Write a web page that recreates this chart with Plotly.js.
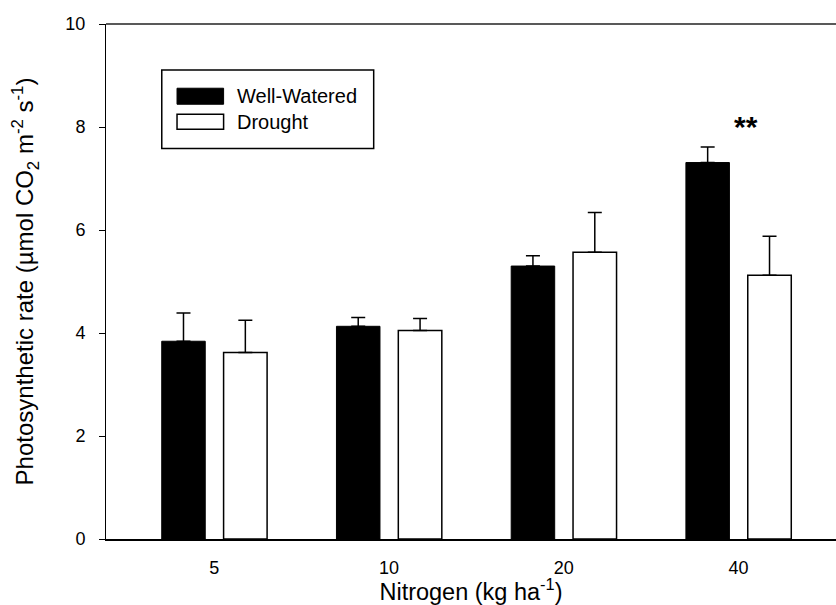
<!DOCTYPE html>
<html>
<head>
<meta charset="utf-8">
<script src="https://cdn.plot.ly/plotly-3.0.1.min.js"></script>
<style>html,body{margin:0;padding:0;background:#fff;}#chart{width:836px;height:605px;}</style>
</head>
<body>
<div id="chart"></div>
<script>
const categories = ['5', '10', '20', '40'];
const wellWatered = [3.84, 4.13, 5.30, 7.31];
const wellWateredErr = [0.55, 0.17, 0.20, 0.30];
const drought = [3.62, 4.05, 5.57, 5.12];
const droughtErr = [0.63, 0.23, 0.77, 0.76];
const seriesNames = ['Well-Watered', 'Drought'];
const significance = '**';

const FONT = 'Liberation Sans, Arial, sans-serif';

const traces = [
  {
    type: 'bar', name: seriesNames[0], x: categories, y: wellWatered,
    offset: -0.301, width: 0.249,
    marker: {color: '#000000', line: {color: '#000000', width: 1}},
    error_y: {type: 'data', symmetric: false, array: wellWateredErr, arrayminus: wellWateredErr.map(() => 0),
              color: '#000000', thickness: 1.5, width: 7},
    showlegend: false, hoverinfo: 'skip'
  },
  {
    type: 'bar', name: seriesNames[1], x: categories, y: drought,
    offset: 0.053, width: 0.249,
    marker: {color: '#ffffff', line: {color: '#000000', width: 1.5}},
    error_y: {type: 'data', symmetric: false, array: droughtErr, arrayminus: droughtErr.map(() => 0),
              color: '#000000', thickness: 1.5, width: 7},
    showlegend: false, hoverinfo: 'skip'
  }
];

const layout = {
  width: 836, height: 605,
  margin: {l: 106, r: 0, t: 24, b: 66},
  paper_bgcolor: '#ffffff', plot_bgcolor: '#ffffff',
  font: {family: FONT, color: '#000000'},
  barmode: 'group',
  xaxis: {
    type: 'category', range: [-0.62, 3.558],
    showline: true, linecolor: '#000000', linewidth: 2,
    ticks: '', showgrid: false, zeroline: false,
    tickfont: {size: 18, family: FONT},
    ticklabelstandoff: 11,
    title: {text: 'Nitrogen (kg ha<sup>-1</sup>)', font: {size: 23.5, family: FONT}, standoff: 2},
    automargin: false
  },
  yaxis: {
    range: [0, 10], tickvals: [0, 2, 4, 6, 8, 10],
    showline: true, linecolor: '#000000', linewidth: 1,
    ticks: 'outside', ticklen: 6, tickwidth: 1, tickcolor: '#000000',
    showgrid: false, zeroline: false,
    tickfont: {size: 18, family: FONT},
    ticklabelstandoff: 10,
    title: {text: 'Photosynthetic rate (µmol CO<sub>2</sub> m<sup>-2</sup> s<sup>-1</sup>)', font: {size: 24, family: FONT}, standoff: 24},
    automargin: false
  },
  shapes: [
    {type: 'line', xref: 'paper', yref: 'paper', x0: 0, x1: 1, y0: 1, y1: 1, line: {color: '#222222', width: 1.5}},
    {type: 'rect', xref: 'paper', yref: 'paper', x0: 0.0764, x1: 0.3667, y0: 0.7582, y1: 0.9109, line: {color: '#000000', width: 1.5}, fillcolor: 'rgba(0,0,0,0)'},
    {type: 'rect', xref: 'paper', yref: 'paper', x0: 0.0973, x1: 0.1611, y0: 0.8442, y1: 0.8753, line: {color: '#000000', width: 1}, fillcolor: '#000000'},
    {type: 'rect', xref: 'paper', yref: 'paper', x0: 0.0973, x1: 0.1611, y0: 0.7957, y1: 0.8248, line: {color: '#000000', width: 1.5}, fillcolor: '#ffffff'}
  ],
  annotations: [
    {xref: 'paper', yref: 'paper', x: 0.1773, y: 0.8598, text: seriesNames[0], showarrow: false, xanchor: 'left', yanchor: 'middle', font: {size: 20, family: FONT, color: '#000'}},
    {xref: 'paper', yref: 'paper', x: 0.1773, y: 0.8103, text: seriesNames[1], showarrow: false, xanchor: 'left', yanchor: 'middle', font: {size: 20, family: FONT, color: '#000'}},
    {xref: 'paper', yref: 'paper', x: 0.8767, y: 0.80, text: '<b>' + significance + '</b>', showarrow: false, xanchor: 'center', yanchor: 'middle', font: {size: 30, family: FONT, color: '#000'}}
  ]
};

Plotly.newPlot('chart', traces, layout, {displayModeBar: false, staticPlot: true});
</script>
</body>
</html>
